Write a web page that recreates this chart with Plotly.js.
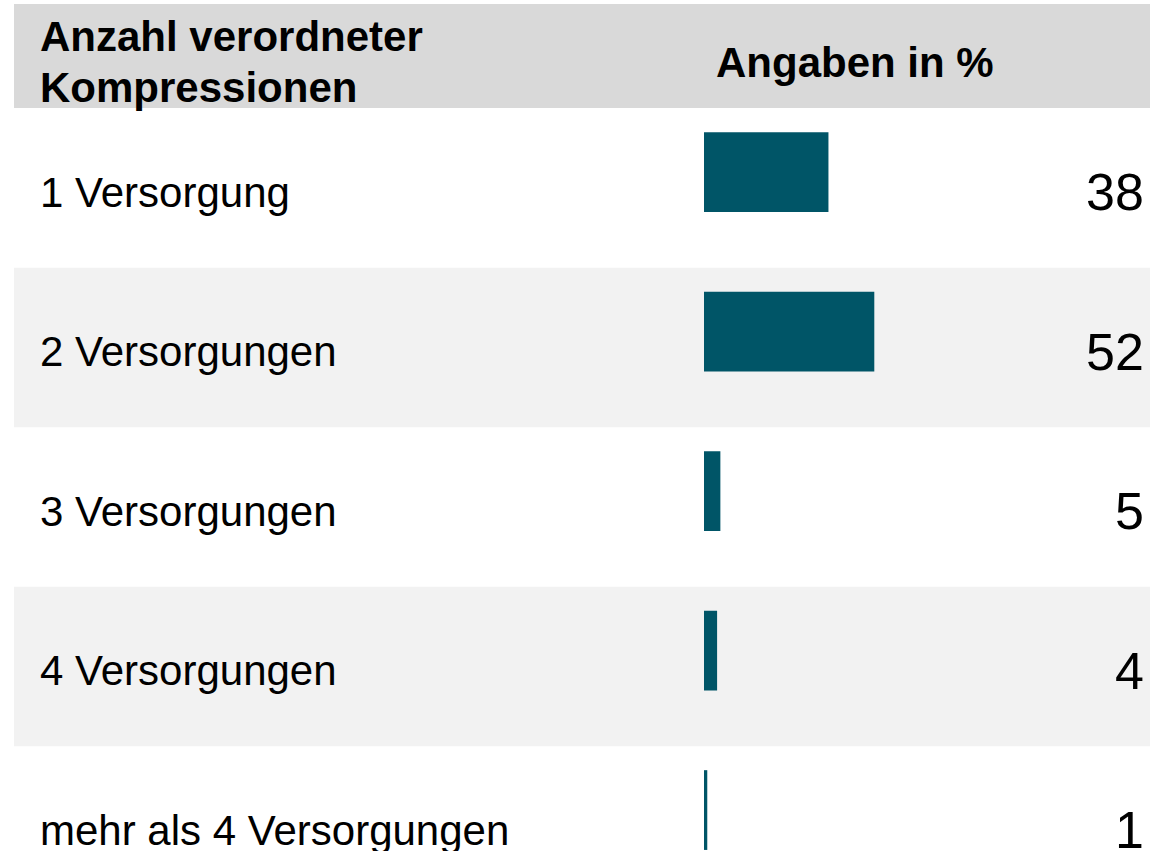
<!DOCTYPE html>
<html>
<head>
<meta charset="utf-8">
<script src="https://cdn.plot.ly/plotly-3.0.1.min.js"></script>
<style>html,body{margin:0;padding:0;background:#fff;}#chart{width:1150px;height:851px;}</style>
</head>
<body>
<div id="chart"></div>
<script>
var categories = ["1 Versorgung", "2 Versorgungen", "3 Versorgungen", "4 Versorgungen", "mehr als 4 Versorgungen"];
var values = [38, 52, 5, 4, 1];
var headerLeftLines = ["Anzahl verordneter", "Kompressionen"];
var headerRight = "Angaben in %";

var barColor = "#005567";
var font = "Liberation Sans, Arial, sans-serif";

var shapes = [{
  type: "rect", xref: "paper", yref: "paper", x0: 14/1150, x1: 1, y0: 1-108/851, y1: 1-4/851,
  fillcolor: "#d9d9d9", line: {width: 0}, layer: "below"
}];
categories.forEach(function(c, i){
  if (i % 2 === 1) {
    shapes.push({type: "rect", xref: "paper", yref: "y", x0: 14/1150, x1: 1, y0: i-0.5, y1: i+0.5,
      fillcolor: "#f2f2f2", line: {width: 0}, layer: "below"});
  }
});

var annotations = [
  {xref: "paper", yref: "paper", x: 38/1150, y: 1-36/851, xanchor: "left", yanchor: "middle",
   text: "<b>" + headerLeftLines[0] + "</b>", showarrow: false, font: {family: font, size: 42, color: "#000"}},
  {xref: "paper", yref: "paper", x: 38/1150, y: 1-87/851, xanchor: "left", yanchor: "middle",
   text: "<b>" + headerLeftLines[1] + "</b>", showarrow: false, font: {family: font, size: 42, color: "#000"}},
  {xref: "paper", yref: "paper", x: 714/1150, y: 1-62/851, xanchor: "left", yanchor: "middle",
   text: "<b>" + headerRight + "</b>", showarrow: false, font: {family: font, size: 42, color: "#000"}}
];
categories.forEach(function(c, i){
  annotations.push({xref: "paper", yref: "y", x: 38/1150, y: c, xanchor: "left", yanchor: "middle",
    yshift: -4, text: c, showarrow: false, font: {family: font, size: 42, color: "#000"}});
  annotations.push({xref: "paper", yref: "y", x: 1146/1150, y: c, xanchor: "right", yanchor: "middle",
    yshift: -4, text: String(values[i]), showarrow: false, font: {family: font, size: 52, color: "#000"}});
});

var pxPerUnit = 3.275;
var trace = {
  type: "bar", orientation: "h", y: categories, x: values,
  width: 0.5, offset: -0.35,
  marker: {color: barColor, line: {width: 0}},
  hoverinfo: "skip"
};

var layout = {
  width: 1150, height: 851,
  margin: {l: 0, r: 0, t: 0, b: 0, pad: 0},
  paper_bgcolor: "#fff", plot_bgcolor: "#fff",
  showlegend: false,
  xaxis: {range: [-704/pxPerUnit, 446/pxPerUnit], visible: false, fixedrange: true},
  yaxis: {type: "category", categoryorder: "array", categoryarray: categories,
          range: [(851-188)/159.5, -188/159.5], visible: false, fixedrange: true},
  shapes: shapes,
  annotations: annotations
};

Plotly.newPlot("chart", [trace], layout, {displayModeBar: false, staticPlot: true});
</script>
</body>
</html>
